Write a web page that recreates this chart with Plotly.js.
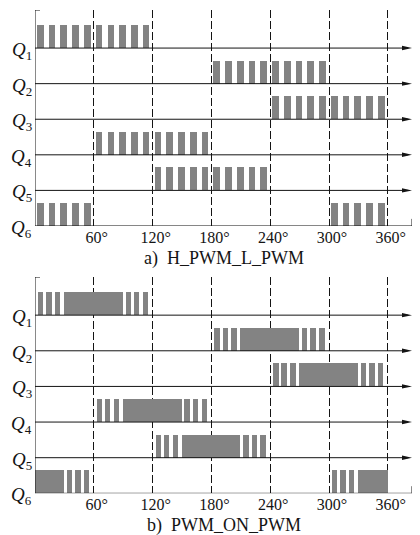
<!DOCTYPE html>
<html>
<head>
<meta charset="utf-8">
<script src="https://cdn.plot.ly/plotly-3.0.1.min.js"></script>
<style>html,body{margin:0;padding:0;background:#fff;}#chart{width:420px;height:535px;}</style>
</head>
<body>
<div id="chart"></div>
<script>
// ---- data ----
const channels = ['1', '2', '3', '4', '5', '6'];            // Q subscripts
const windowStart = [0, 180, 240, 60, 120, 300];             // start (deg) of each 120° conduction window
const tickVals = [60, 120, 180, 240, 300, 360];
const tickLabels = ['60°', '120°', '180°', '240°', '300°', '360°'];
// panel a) H_PWM_L_PWM : pulse on/off inside a 120° window (deg)
const pulseAStart = [2, 14, 26, 38, 50, 62, 74, 86, 98, 110];
const pulseAEnd   = [8.8, 20.8, 32.8, 44.8, 56.8, 68.8, 80.8, 92.8, 104.8, 116.8];
// panel b) PWM_ON_PWM : pulses, solid on-part, pulses (deg inside the window)
const pulseBStart = [3, 11.5, 20.5, 29.5, 92.5, 101, 110];
const pulseBEnd   = [8.5, 17, 26, 89.5, 98, 106.5, 115.5];
const captionA = 'a)\u2002H_PWM_L_PWM';
const captionB = 'b)\u2002PWM_ON_PWM';

// ---- drawing ----
const FONT = 'Liberation Serif, Times New Roman, serif';
const GRAY = '#838383';
const INK = '#141414';
const PULSE_H = 0.65;
const Y_TOP = 6.07;
const X_END = 384.7;
const baseOf = i => 5 - i;

function buildBars(starts, ends) {
  const x = [], w = [], base = [], y = [];
  const push = (s, e, b) => { x.push((s + e) / 2); w.push(e - s); base.push(b); y.push(PULSE_H); };
  channels.forEach((c, i) => {
    const b = baseOf(i);
    starts.forEach((st, j) => {
      let s = windowStart[i] + st, e = windowStart[i] + ends[j];
      if (s >= 360) { s -= 360; e -= 360; push(s, e, b); }
      else if (e > 360) { push(s, 360, b); push(0, e - 360, b); }
      else push(s, e, b);
    });
  });
  return { x, w, base, y };
}

function barTrace(d, xa, ya) {
  return { type: 'bar', x: d.x, y: d.y, base: d.base, width: d.w, xaxis: xa, yaxis: ya,
    marker: { color: GRAY, line: { width: 0 } }, hoverinfo: 'skip', showlegend: false };
}

const dA = buildBars(pulseAStart, pulseAEnd);
const dB = buildBars(pulseBStart, pulseBEnd);

function panelShapes(xr, yr) {
  const sh = [];
  const ln = { color: INK, width: 1 };
  sh.push({ type: 'line', xref: xr, yref: yr, x0: 0, x1: 0, y0: 0, y1: Y_TOP, line: ln });
  sh.push({ type: 'line', xref: xr, yref: yr, x0: 0, x1: 5.1, y0: Y_TOP, y1: Y_TOP, line: ln });
  channels.forEach((c, i) => {
    const b = baseOf(i);
    sh.push({ type: 'line', xref: xr, yref: yr, x0: 0, x1: i < 5 ? X_END - 4 : X_END, y0: b, y1: b, line: ln });
    if (i < 5) {
      sh.push({ type: 'path', xref: xr, yref: yr, xsizemode: 'pixel', ysizemode: 'pixel',
        xanchor: X_END, yanchor: b, path: 'M-10,-2.2L0,0L-10,2.2Z', fillcolor: INK, line: { width: 0 } });
    }
  });
  sh.push({ type: 'line', xref: xr, yref: yr, x0: X_END, x1: X_END, y0: 0, y1: 0.2, line: ln });
  return sh;
}

function panelLabels(xr, yr) {
  return channels.map((c, i) => ({
    xref: xr, yref: yr, x: 0, y: baseOf(i), xanchor: 'right', yanchor: 'middle', xshift: -1, yshift: -3,
    text: '<i>Q</i><sub><span style="font-size:13px">' + c + '</span></sub>', showarrow: false,
    font: { family: FONT, size: 19, color: INK }
  }));
}

function xAxis(anchor) {
  return { domain: [0, 1], range: [0, X_END], anchor: anchor, tickvals: tickVals,
    ticktext: tickLabels, ticklabelshift: 3, ticks: '', showline: false, zeroline: false,
    showgrid: true, gridcolor: INK, gridwidth: 1, griddash: '8px,3px',
    tickfont: { family: FONT, size: 16, color: INK }, fixedrange: true };
}
function yAxis(anchor, dom) {
  return { domain: dom, range: [0, Y_TOP], anchor: anchor, showgrid: false, zeroline: false,
    showticklabels: false, showline: false, ticks: '', fixedrange: true };
}

const layout = {
  width: 420, height: 535, margin: { l: 35, r: 8, t: 0, b: 0 },
  paper_bgcolor: '#fff', plot_bgcolor: '#fff', barmode: 'overlay', bargap: 0,
  showlegend: false,
  xaxis: xAxis('y'), yaxis: yAxis('x', [0.5776, 0.9813]),
  xaxis2: xAxis('y2'), yaxis2: yAxis('x2', [0.0779, 0.4822]),
  shapes: panelShapes('x', 'y').concat(panelShapes('x2', 'y2')),
  annotations: panelLabels('x', 'y').concat(panelLabels('x2', 'y2')).concat([
    { xref: 'paper', yref: 'paper', x: 0.5, y: (535 - 258) / 535, xanchor: 'center', yanchor: 'middle',
      text: captionA, showarrow: false, font: { family: FONT, size: 18, color: INK } },
    { xref: 'paper', yref: 'paper', x: 0.5, y: (535 - 525) / 535, xanchor: 'center', yanchor: 'middle',
      text: captionB, showarrow: false, font: { family: FONT, size: 18, color: INK } }
  ])
};

Plotly.newPlot('chart', [barTrace(dA, 'x', 'y'), barTrace(dB, 'x2', 'y2')], layout,
  { staticPlot: true, displayModeBar: false });
</script>
</body>
</html>
